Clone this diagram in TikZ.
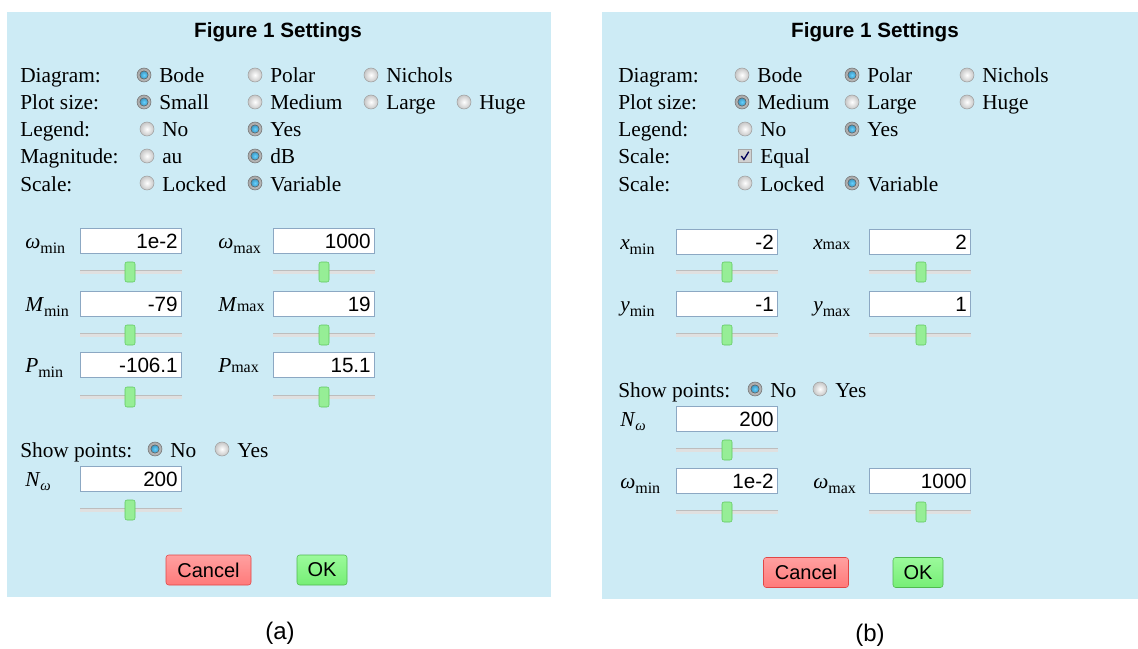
\documentclass[tikz,border=0pt]{standalone}
\usepackage{fontspec}
\setmainfont{Liberation Serif}
\newfontfamily\sansf{Liberation Sans}
\definecolor{panelblue}{RGB}{205,235,245}
\definecolor{boxborder}{RGB}{140,168,195}
\definecolor{thumbgreen}{RGB}{150,238,150}
\definecolor{thumbedge}{RGB}{95,200,95}
\definecolor{dotblue}{RGB}{40,140,190}
\tikzset{
  panel/.style={fill=panelblue, draw=none},
  lbl/.style={anchor=base west, inner sep=0pt, font=\fontsize{16}{18}\selectfont},
  ttl/.style={inner sep=0pt, font=\sansf\bfseries\fontsize{15.5}{18}\selectfont},
  radio/.style={circle, draw=black!38, inner sep=0pt, minimum size=10.5pt, inner color=white, outer color=black!22},
  roff/.style={radio},
  ron/.style={radio, draw=black!55, inner color=black!15, outer color=black!35, path picture={\fill[draw=black!60, line width=0.4pt, inner color=cyan!70!blue!60, outer color=dotblue!80!black] (path picture bounding box.center) circle (3.1pt);}},
  cbox/.style={rectangle, draw=black!35, fill=black!18, inner sep=0pt, minimum size=10pt,
    path picture={\draw[blue!35!black, line width=1pt] ([shift={(-2.8pt,0pt)}]path picture bounding box.center) -- ([shift={(-0.8pt,-2.6pt)}]path picture bounding box.center) -- ([shift={(2.8pt,3.2pt)}]path picture bounding box.center);}},
  tb/.style={rectangle, draw=boxborder, fill=white, line width=0.75pt, minimum width=75.75pt, minimum height=18.75pt, inner sep=0pt, anchor=west},
  val/.style={anchor=east, inner sep=0pt, font=\sansf\fontsize{15.5}{18}\selectfont},
  track/.style={line width=2.4pt, draw=black!12},
  trackedge/.style={line width=0.5pt, draw=black!26},
  thumb/.style={rectangle, rounded corners=1.5pt, draw=thumbedge, fill=thumbgreen, minimum width=7.5pt, minimum height=15pt, inner sep=0pt},
  btn/.style={rectangle, rounded corners=2pt, inner sep=0pt, font=\sansf\fontsize{15}{18}\selectfont, minimum height=22.5pt},
  cancelbtn/.style={btn, draw={rgb,255:red,225;green,70;blue,70}, top color={rgb,255:red,255;green,160;blue,160}, bottom color={rgb,255:red,255;green,122;blue,122}, minimum width=63.75pt},
  okbtn/.style={btn, draw={rgb,255:red,80;green,185;blue,80}, top color={rgb,255:red,155;green,250;blue,155}, bottom color={rgb,255:red,118;green,238;blue,118}, minimum width=37.5pt},
  captxt/.style={inner sep=0pt, font=\sansf\fontsize{18}{20}\selectfont}
}
\newcommand\rb[5]{\node[#1] (#2) at (#3,#4) {}; \node[lbl] (#2t) at (#3+15,#4+8) {#5};}
\newcommand\rowlbl[4]{\node[lbl] (#1) at (#2,#3+9) {#4};}
\newcommand\lo[2]{\textit{#1}\raisebox{-4pt}{\fontsize{12}{12}\selectfont #2}}
\newcommand\hi[2]{\textit{#1}{\fontsize{12}{12}\selectfont #2}}
\newcommand\tbx[5]{\node[tb] (#1) at (#2,#3) {}; \node[val] (#1v) at ([xshift=-3pt]#1.east) {#4};}
\newcommand\sld[4]{\draw[track] (#2,#3) -- (#2+102,#3); \draw[trackedge] (#2,#3-1.6) -- (#2+102,#3-1.6); \node[thumb] (#1) at (#4,#3) {};}
\begin{document}
\begin{tikzpicture}[x=0.75pt, y=-0.75pt]
\useasboundingbox (0,0) rectangle (1138,649);
% ===== Panel (a) =====
\fill[panel] (7,12) rectangle (551,597);
\node[ttl] (ta) at (278,32) {Figure 1 Settings};
\rowlbl{a1}{20}{74}{Diagram:}
\rowlbl{a2}{20}{101}{Plot size:}
\rowlbl{a3}{20}{128}{Legend:}
\rowlbl{a4}{20}{155}{Magnitude:}
\rowlbl{a5}{20}{182}{Scale:}
\rb{ron}{a1r1}{144}{75}{Bode}
\rb{roff}{a1r2}{255}{75}{Polar}
\rb{roff}{a1r3}{371}{75}{Nichols}
\rb{ron}{a2r1}{144}{102}{Small}
\rb{roff}{a2r2}{255}{102}{Medium}
\rb{roff}{a2r3}{371}{102}{Large}
\rb{roff}{a2r4}{464}{102}{Huge}
\rb{roff}{a3r1}{147}{129}{No}
\rb{ron}{a3r2}{255}{129}{Yes}
\rb{roff}{a4r1}{147}{156}{au}
\rb{ron}{a4r2}{255}{156}{dB}
\rb{roff}{a5r1}{147}{183}{Locked}
\rb{ron}{a5r2}{255}{183}{Variable}
% boxes
\node[lbl] (awminl) at (25,248) {\lo{ω}{min}};
\node[lbl] (awmaxl) at (218,248) {\lo{ω}{max}};
\tbx{awmin}{80}{241}{1e-2}{}
\tbx{awmax}{273}{241}{1000}{}
\sld{awmins}{80}{272}{130}
\sld{awmaxs}{273}{272}{324}
\node[lbl] (aMminl) at (25,311) {\lo{M}{min}};
\node[lbl] (aMmaxl) at (218,311) {\hi{M}{max}};
\tbx{aMmin}{80}{304}{-79}{}
\tbx{aMmax}{273}{304}{19}{}
\sld{aMmins}{80}{335}{130}
\sld{aMmaxs}{273}{335}{324}
\node[lbl] (aPminl) at (25,372) {\lo{P}{min}};
\node[lbl] (aPmaxl) at (218,372) {\hi{P}{max}};
\tbx{aPmin}{80}{365}{-106.1}{}
\tbx{aPmax}{273}{365}{15.1}{}
\sld{aPmins}{80}{397}{130}
\sld{aPmaxs}{273}{397}{324}
\rowlbl{asp}{20}{448}{Show points:}
\rb{ron}{aspr1}{155}{449}{No}
\rb{roff}{aspr2}{222}{449}{Yes}
\node[lbl] (aNl) at (25,486) {\textit{N}\raisebox{-3.5pt}{\fontsize{11}{11}\selectfont\textit{ω}}};
\tbx{aN}{80}{479}{200}{}
\sld{aNs}{80}{510}{130}
\node[cancelbtn] (acancel) at (208.5,570) {Cancel};
\node[okbtn] (aok) at (322,570) {OK};
\node[captxt] (capa) at (280,633) {(a)};
% ===== Panel (b) =====
\fill[panel] (602,12) rectangle (1138,599);
\node[ttl] (tb) at (875,32) {Figure 1 Settings};
\rowlbl{b1}{618}{74}{Diagram:}
\rowlbl{b2}{618}{101}{Plot size:}
\rowlbl{b3}{618}{128}{Legend:}
\rowlbl{b4}{618}{155}{Scale:}
\rowlbl{b5}{618}{182}{Scale:}
\rb{roff}{b1r1}{742}{75}{Bode}
\rb{ron}{b1r2}{852}{75}{Polar}
\rb{roff}{b1r3}{967}{75}{Nichols}
\rb{ron}{b2r1}{742}{102}{Medium}
\rb{roff}{b2r2}{852}{102}{Large}
\rb{roff}{b2r3}{967}{102}{Huge}
\rb{roff}{b3r1}{745}{129}{No}
\rb{ron}{b3r2}{852}{129}{Yes}
\rb{cbox}{b4c}{745}{156}{Equal}
\rb{roff}{b5r1}{745}{183}{Locked}
\rb{ron}{b5r2}{852}{183}{Variable}
\node[lbl] (bxminl) at (620,249) {\lo{x}{min}};
\node[lbl] (bxmaxl) at (813,249) {\hi{x}{max}};
\tbx{bxmin}{676}{242}{-2}{}
\tbx{bxmax}{869}{242}{2}{}
\sld{bxmins}{676}{272}{727}
\sld{bxmaxs}{869}{272}{921}
\node[lbl] (byminl) at (620,311) {\lo{y}{min}};
\node[lbl] (bymaxl) at (813,311) {\lo{y}{max}};
\tbx{bymin}{676}{304}{-1}{}
\tbx{bymax}{869}{304}{1}{}
\sld{bymins}{676}{335}{727}
\sld{bymaxs}{869}{335}{921}
\rowlbl{bsp}{618}{388}{Show points:}
\rb{ron}{bspr1}{755}{389}{No}
\rb{roff}{bspr2}{820}{389}{Yes}
\node[lbl] (bNl) at (620,426) {\textit{N}\raisebox{-3.5pt}{\fontsize{11}{11}\selectfont\textit{ω}}};
\tbx{bN}{676}{419}{200}{}
\sld{bNs}{676}{450}{727}
\node[lbl] (bwminl) at (620,488) {\lo{ω}{min}};
\node[lbl] (bwmaxl) at (813,488) {\lo{ω}{max}};
\tbx{bwmin}{676}{481}{1e-2}{}
\tbx{bwmax}{869}{481}{1000}{}
\sld{bwmins}{676}{512}{727}
\sld{bwmaxs}{869}{512}{921}
\node[cancelbtn] (bcancel) at (806,572.5) {Cancel};
\node[okbtn] (bok) at (918,572.5) {OK};
\node[captxt] (capb) at (870,635) {(b)};
\end{tikzpicture}
\end{document}
